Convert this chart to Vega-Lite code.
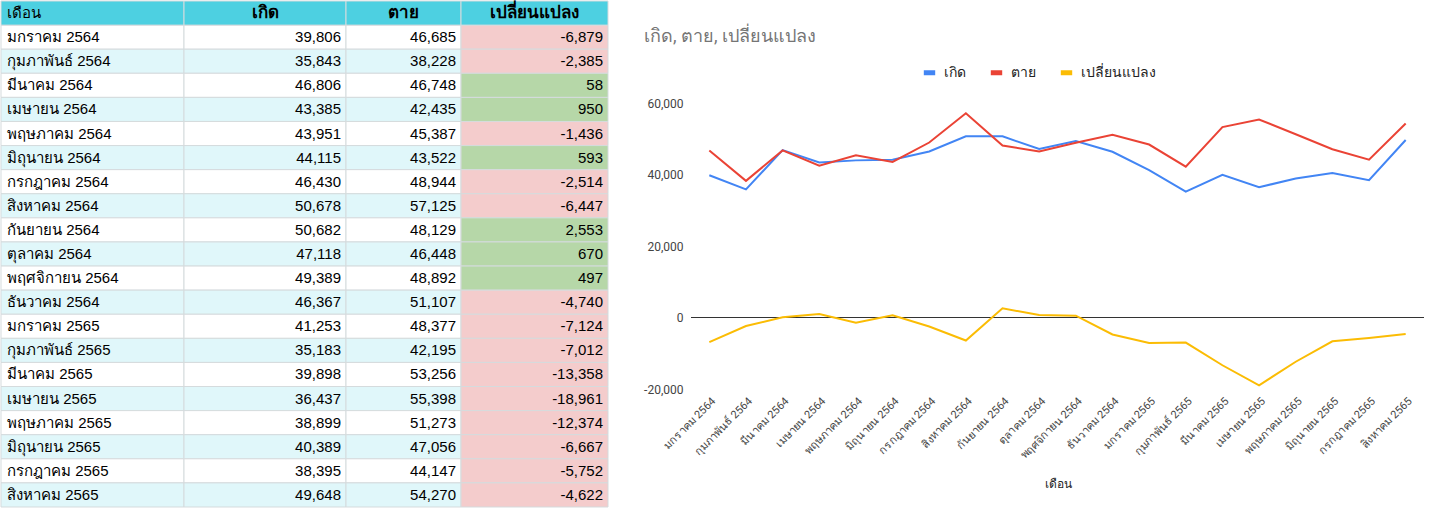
{
  "$schema": "https://vega.github.io/schema/vega-lite/v6.json",
  "padding": 0,
  "background": "#ffffff",
  "datasets": {
    "d": [
      {"เดือน": "มกราคม 2564", "เกิด": 39806, "ตาย": 46685, "เปลี่ยนแปลง": -6879},
      {"เดือน": "กุมภาพันธ์ 2564", "เกิด": 35843, "ตาย": 38228, "เปลี่ยนแปลง": -2385},
      {"เดือน": "มีนาคม 2564", "เกิด": 46806, "ตาย": 46748, "เปลี่ยนแปลง": 58},
      {"เดือน": "เมษายน 2564", "เกิด": 43385, "ตาย": 42435, "เปลี่ยนแปลง": 950},
      {"เดือน": "พฤษภาคม 2564", "เกิด": 43951, "ตาย": 45387, "เปลี่ยนแปลง": -1436},
      {"เดือน": "มิถุนายน 2564", "เกิด": 44115, "ตาย": 43522, "เปลี่ยนแปลง": 593},
      {"เดือน": "กรกฎาคม 2564", "เกิด": 46430, "ตาย": 48944, "เปลี่ยนแปลง": -2514},
      {"เดือน": "สิงหาคม 2564", "เกิด": 50678, "ตาย": 57125, "เปลี่ยนแปลง": -6447},
      {"เดือน": "กันยายน 2564", "เกิด": 50682, "ตาย": 48129, "เปลี่ยนแปลง": 2553},
      {"เดือน": "ตุลาคม 2564", "เกิด": 47118, "ตาย": 46448, "เปลี่ยนแปลง": 670},
      {"เดือน": "พฤศจิกายน 2564", "เกิด": 49389, "ตาย": 48892, "เปลี่ยนแปลง": 497},
      {"เดือน": "ธันวาคม 2564", "เกิด": 46367, "ตาย": 51107, "เปลี่ยนแปลง": -4740},
      {"เดือน": "มกราคม 2565", "เกิด": 41253, "ตาย": 48377, "เปลี่ยนแปลง": -7124},
      {"เดือน": "กุมภาพันธ์ 2565", "เกิด": 35183, "ตาย": 42195, "เปลี่ยนแปลง": -7012},
      {"เดือน": "มีนาคม 2565", "เกิด": 39898, "ตาย": 53256, "เปลี่ยนแปลง": -13358},
      {"เดือน": "เมษายน 2565", "เกิด": 36437, "ตาย": 55398, "เปลี่ยนแปลง": -18961},
      {"เดือน": "พฤษภาคม 2565", "เกิด": 38899, "ตาย": 51273, "เปลี่ยนแปลง": -12374},
      {"เดือน": "มิถุนายน 2565", "เกิด": 40389, "ตาย": 47056, "เปลี่ยนแปลง": -6667},
      {"เดือน": "กรกฎาคม 2565", "เกิด": 38395, "ตาย": 44147, "เปลี่ยนแปลง": -5752},
      {"เดือน": "สิงหาคม 2565", "เกิด": 49648, "ตาย": 54270, "เปลี่ยนแปลง": -4622}
    ]
  },
  "spacing": 34,
  "resolve": {"legend": {"color": "independent"}, "scale": {"color": "independent", "y": "independent", "x": "independent"}},
  "hconcat": [
    {
      "spacing": 0,
      "bounds": "flush",
      "hconcat": [
        {
          "width": 183,
          "height": 506,
          "layer": [
            {
              "data": {"name": "d"},
              "transform": [{"window": [{"op": "row_number", "as": "rn"}]}],
              "mark": {"type": "rect", "stroke": "#d5dbdd", "strokeWidth": 1},
              "encoding": {
                "y": {"field": "เดือน", "type": "nominal", "axis": null, "sort": null,
                  "scale": {"paddingInner": 0, "paddingOuter": 0, "domain": ["เดือน", "มกราคม 2564","กุมภาพันธ์ 2564","มีนาคม 2564","เมษายน 2564","พฤษภาคม 2564","มิถุนายน 2564","กรกฎาคม 2564","สิงหาคม 2564","กันยายน 2564","ตุลาคม 2564","พฤศจิกายน 2564","ธันวาคม 2564","มกราคม 2565","กุมภาพันธ์ 2565","มีนาคม 2565","เมษายน 2565","พฤษภาคม 2565","มิถุนายน 2565","กรกฎาคม 2565","สิงหาคม 2565"]}},
                "fill": {"condition": {"test": "datum.rn % 2 == 0", "value": "#e0f7fa"}, "value": "#ffffff"}
              }
            },
            {
              "data": {"name": "d"},
              "mark": {"type": "text", "align": "left", "x": 0, "dx": 6, "fontSize": 15, "color": "#000000", "font": "Arial, Liberation Sans, sans-serif"},
              "encoding": {
                "y": {"field": "เดือน", "type": "nominal", "axis": null, "sort": null},
                "text": {"field": "เดือน"}
              }
            },
            {
              "data": {"values": [{"เดือน": "เดือน", "label": "เดือน"}]},
              "mark": {"type": "rect", "fill": "#4dd0e1", "stroke": "#d5dbdd", "strokeWidth": 1},
              "encoding": {"y": {"field": "เดือน", "type": "nominal", "axis": null, "sort": null}}
            },
            {
              "data": {"values": [{"เดือน": "เดือน", "label": "เดือน"}]},
              "mark": {"type": "text", "align": "left", "x": 0, "dx": 6, "fontSize": 15, "color": "#000000", "font": "Arial, Liberation Sans, sans-serif"},
              "encoding": {"y": {"field": "เดือน", "type": "nominal", "axis": null, "sort": null}, "text": {"field": "label"}}
            }
          ]
        },
        {
          "width": 162,
          "height": 506,
          "layer": [
            {
              "data": {"name": "d"},
              "transform": [{"window": [{"op": "row_number", "as": "rn"}]}],
              "mark": {"type": "rect", "stroke": "#d5dbdd", "strokeWidth": 1},
              "encoding": {
                "y": {"field": "เดือน", "type": "nominal", "axis": null, "sort": null,
                  "scale": {"paddingInner": 0, "paddingOuter": 0, "domain": ["เดือน", "มกราคม 2564","กุมภาพันธ์ 2564","มีนาคม 2564","เมษายน 2564","พฤษภาคม 2564","มิถุนายน 2564","กรกฎาคม 2564","สิงหาคม 2564","กันยายน 2564","ตุลาคม 2564","พฤศจิกายน 2564","ธันวาคม 2564","มกราคม 2565","กุมภาพันธ์ 2565","มีนาคม 2565","เมษายน 2565","พฤษภาคม 2565","มิถุนายน 2565","กรกฎาคม 2565","สิงหาคม 2565"]}},
                "fill": {"condition": {"test": "datum.rn % 2 == 0", "value": "#e0f7fa"}, "value": "#ffffff"}
              }
            },
            {
              "data": {"name": "d"},
              "mark": {"type": "text", "align": "right", "x": "width", "dx": -5, "fontSize": 15, "color": "#000000", "font": "Arial, Liberation Sans, sans-serif"},
              "encoding": {
                "y": {"field": "เดือน", "type": "nominal", "axis": null, "sort": null},
                "text": {"field": "เกิด", "type": "quantitative", "format": ","}
              }
            },
            {
              "data": {"values": [{"เดือน": "เดือน", "label": "เกิด"}]},
              "mark": {"type": "rect", "fill": "#4dd0e1", "stroke": "#d5dbdd", "strokeWidth": 1},
              "encoding": {"y": {"field": "เดือน", "type": "nominal", "axis": null, "sort": null}}
            },
            {
              "data": {"values": [{"เดือน": "เดือน", "label": "เกิด"}]},
              "mark": {"type": "text", "align": "center", "fontSize": 17, "fontWeight": "bold", "color": "#000000", "font": "Arial, Liberation Sans, sans-serif"},
              "encoding": {"y": {"field": "เดือน", "type": "nominal", "axis": null, "sort": null}, "text": {"field": "label"}}
            }
          ]
        },
        {
          "width": 115,
          "height": 506,
          "layer": [
            {
              "data": {"name": "d"},
              "transform": [{"window": [{"op": "row_number", "as": "rn"}]}],
              "mark": {"type": "rect", "stroke": "#d5dbdd", "strokeWidth": 1},
              "encoding": {
                "y": {"field": "เดือน", "type": "nominal", "axis": null, "sort": null,
                  "scale": {"paddingInner": 0, "paddingOuter": 0, "domain": ["เดือน", "มกราคม 2564","กุมภาพันธ์ 2564","มีนาคม 2564","เมษายน 2564","พฤษภาคม 2564","มิถุนายน 2564","กรกฎาคม 2564","สิงหาคม 2564","กันยายน 2564","ตุลาคม 2564","พฤศจิกายน 2564","ธันวาคม 2564","มกราคม 2565","กุมภาพันธ์ 2565","มีนาคม 2565","เมษายน 2565","พฤษภาคม 2565","มิถุนายน 2565","กรกฎาคม 2565","สิงหาคม 2565"]}},
                "fill": {"condition": {"test": "datum.rn % 2 == 0", "value": "#e0f7fa"}, "value": "#ffffff"}
              }
            },
            {
              "data": {"name": "d"},
              "mark": {"type": "text", "align": "right", "x": "width", "dx": -5, "fontSize": 15, "color": "#000000", "font": "Arial, Liberation Sans, sans-serif"},
              "encoding": {
                "y": {"field": "เดือน", "type": "nominal", "axis": null, "sort": null},
                "text": {"field": "ตาย", "type": "quantitative", "format": ","}
              }
            },
            {
              "data": {"values": [{"เดือน": "เดือน", "label": "ตาย"}]},
              "mark": {"type": "rect", "fill": "#4dd0e1", "stroke": "#d5dbdd", "strokeWidth": 1},
              "encoding": {"y": {"field": "เดือน", "type": "nominal", "axis": null, "sort": null}}
            },
            {
              "data": {"values": [{"เดือน": "เดือน", "label": "ตาย"}]},
              "mark": {"type": "text", "align": "center", "fontSize": 17, "fontWeight": "bold", "color": "#000000", "font": "Arial, Liberation Sans, sans-serif"},
              "encoding": {"y": {"field": "เดือน", "type": "nominal", "axis": null, "sort": null}, "text": {"field": "label"}}
            }
          ]
        },
        {
          "width": 147,
          "height": 506,
          "layer": [
            {
              "data": {"name": "d"},
              "mark": {"type": "rect", "stroke": "#d5dbdd", "strokeWidth": 1},
              "encoding": {
                "y": {"field": "เดือน", "type": "nominal", "axis": null, "sort": null,
                  "scale": {"paddingInner": 0, "paddingOuter": 0, "domain": ["เดือน", "มกราคม 2564","กุมภาพันธ์ 2564","มีนาคม 2564","เมษายน 2564","พฤษภาคม 2564","มิถุนายน 2564","กรกฎาคม 2564","สิงหาคม 2564","กันยายน 2564","ตุลาคม 2564","พฤศจิกายน 2564","ธันวาคม 2564","มกราคม 2565","กุมภาพันธ์ 2565","มีนาคม 2565","เมษายน 2565","พฤษภาคม 2565","มิถุนายน 2565","กรกฎาคม 2565","สิงหาคม 2565"]}},
                "fill": {"condition": {"test": "datum['เปลี่ยนแปลง'] < 0", "value": "#f4cccc"}, "value": "#b6d7a8"}
              }
            },
            {
              "data": {"name": "d"},
              "mark": {"type": "text", "align": "right", "x": "width", "dx": -5, "fontSize": 15, "color": "#000000", "font": "Arial, Liberation Sans, sans-serif"},
              "encoding": {
                "y": {"field": "เดือน", "type": "nominal", "axis": null, "sort": null},
                "text": {"field": "เปลี่ยนแปลง", "type": "quantitative", "format": ","}
              }
            },
            {
              "data": {"values": [{"เดือน": "เดือน", "label": "เปลี่ยนแปลง"}]},
              "mark": {"type": "rect", "fill": "#4dd0e1", "stroke": "#d5dbdd", "strokeWidth": 1},
              "encoding": {"y": {"field": "เดือน", "type": "nominal", "axis": null, "sort": null}}
            },
            {
              "data": {"values": [{"เดือน": "เดือน", "label": "เปลี่ยนแปลง"}]},
              "mark": {"type": "text", "align": "center", "fontSize": 17, "fontWeight": "bold", "color": "#000000", "font": "Arial, Liberation Sans, sans-serif"},
              "encoding": {"y": {"field": "เดือน", "type": "nominal", "axis": null, "sort": null}, "text": {"field": "label"}}
            }
          ]
        }
      ]
    },
    {
      "width": 733,
      "height": 388,
      "title": {
        "text": "เกิด, ตาย, เปลี่ยนแปลง",
        "anchor": "start",
        "frame": "group",
        "dx": -47,
        "fontSize": 18,
        "fontWeight": "normal",
        "color": "#757575",
        "font": "Roboto, Arial, sans-serif",
        "offset": -45
      },
      "layer": [
        {
          "data": {"values": [{}]},
          "mark": {"type": "rule", "color": "#333333", "strokeWidth": 1},
          "encoding": {"y": {"datum": 0, "type": "quantitative", "scale": {"domain": [-20000, 60000], "nice": false, "zero": false, "range": [388, 102]}, "axis": {"values": [-20000, 0, 20000, 40000, 60000], "format": ",.0f", "title": null, "ticks": false, "domain": false, "gridColor": "#cccccc", "labelFontSize": 12, "labelColor": "#444444", "labelPadding": 8, "labelFont": "Roboto, Arial, sans-serif"}}}
        },
        {
          "data": {"name": "d"},
          "transform": [{"fold": ["เกิด", "ตาย", "เปลี่ยนแปลง"], "as": ["series", "value"]}],
          "mark": {"type": "line", "strokeWidth": 2},
          "encoding": {
            "x": {
              "field": "เดือน", "type": "ordinal", "sort": null,
              "axis": {"labelAngle": -45, "ticks": false, "domain": false, "labelFontSize": 11, "labelColor": "#444444", "labelPadding": 6, "title": "เดือน", "titleFontSize": 12, "titleFontWeight": "normal", "titleColor": "#222222", "titlePadding": 18, "labelFont": "Roboto, Arial, sans-serif", "titleFont": "Roboto, Arial, sans-serif"}
            },
            "y": {
              "field": "value", "type": "quantitative",
              "scale": {"domain": [-20000, 60000], "nice": false, "zero": false, "range": [388, 102]},
              "axis": {"values": [-20000, 0, 20000, 40000, 60000], "format": ",.0f", "title": null, "ticks": false, "domain": false, "gridColor": "#cccccc", "labelFontSize": 12, "labelColor": "#444444", "labelPadding": 8, "labelFont": "Roboto, Arial, sans-serif"}
            },
            "color": {
              "field": "series", "type": "nominal",
              "scale": {"domain": ["เกิด", "ตาย", "เปลี่ยนแปลง"], "range": ["#4285f4", "#ea4335", "#fbbc04"]},
              "legend": {"orient": "none", "legendX": 230, "legendY": 63, "direction": "horizontal", "title": null, "labelFontSize": 14, "labelColor": "#222222", "labelFont": "Roboto, Arial, sans-serif", "symbolType": "stroke", "symbolSize": 130, "symbolStrokeWidth": 5, "columnPadding": 14, "labelOffset": 6}
            }
          }
        }
      ]
    }
  ],
  "config": {
    "view": {"stroke": null},
    "locale": {"number": {"decimal": ".", "thousands": ",", "grouping": [3], "currency": ["$", ""], "minus": "-"}}
  }
}
